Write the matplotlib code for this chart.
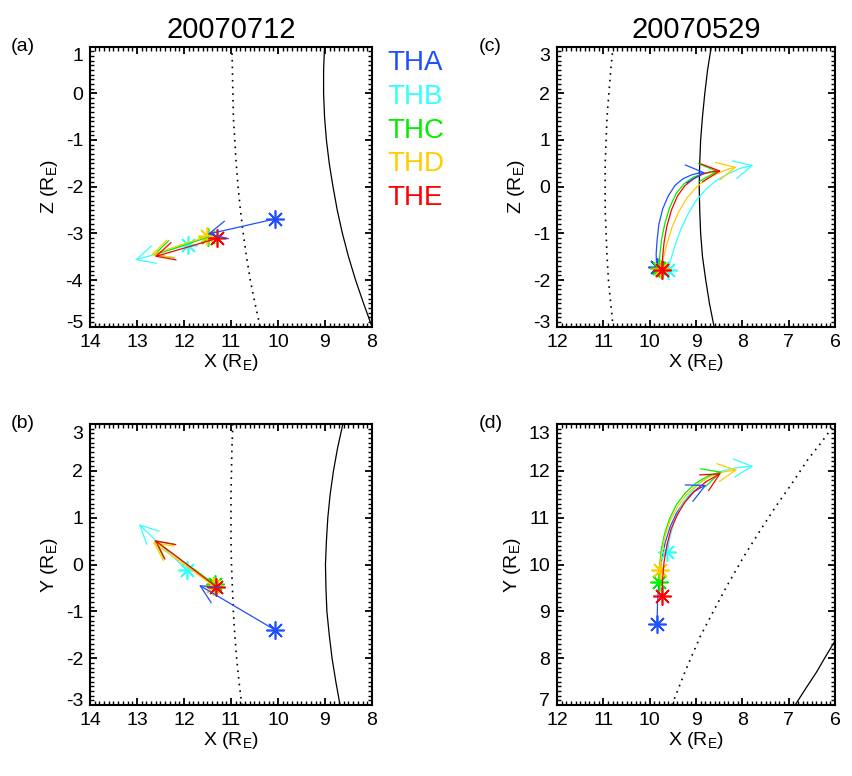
import matplotlib
matplotlib.use("Agg")
import matplotlib.pyplot as plt
import matplotlib.transforms as mtransforms
from matplotlib.ticker import MultipleLocator

plt.rcParams['font.family'] = ['Liberation Sans', 'DejaVu Sans']
plt.rcParams['mathtext.fontset'] = 'custom'
plt.rcParams['mathtext.rm'] = 'Liberation Sans'
plt.rcParams['mathtext.it'] = 'Liberation Sans'

# spacecraft
probes = ["THA", "THB", "THC", "THD", "THE"]
colors = ["#1f4fff", "#33ffff", "#00f000", "#ffcc00", "#ff0000"]

# event 20070712 : start (star) and end (arrow tip) of each vector
xz_a_start = [(10.06, -2.69), (11.92, -3.25), (11.48, -3.08), (11.50, -3.06), (11.30, -3.11)]
xz_a_end = [(11.50, -3.02), (13.04, -3.57), (12.66, -3.47), (12.70, -3.46), (12.62, -3.50)]
xy_b_start = [(10.06, -1.40), (11.94, -0.12), (11.35, -0.42), (11.38, -0.45), (11.32, -0.47)]
xy_b_end = [(11.68, -0.44), (12.96, 0.86), (12.64, 0.52), (12.66, 0.48), (12.62, 0.52)]

# boundaries 20070712
bs_a_z = [1.0, 0.5, 0.0, -0.5, -1.0, -1.5, -2.0, -2.5, -3.0, -3.5, -4.0, -4.5, -5.0]
bs_a_x = [10.98, 10.97, 10.96, 10.95, 10.92, 10.89, 10.85, 10.80, 10.74, 10.67, 10.59, 10.49, 10.38]
mp_a_z = [1.0, 0.5, 0.0, -0.5, -1.0, -1.5, -2.0, -2.5, -3.0, -3.5, -4.0, -4.5, -5.0]
mp_a_x = [9.01, 9.03, 9.03, 9.01, 8.97, 8.91, 8.83, 8.74, 8.63, 8.50, 8.35, 8.18, 8.00]
bs_b_y = [3.0, 2.5, 2.0, 1.5, 1.0, 0.5, 0.0, -0.5, -1.0, -1.5, -2.0, -2.5, -3.0]
bs_b_x = [10.96, 10.98, 10.99, 11.00, 11.00, 11.00, 10.99, 10.97, 10.95, 10.92, 10.88, 10.83, 10.77]
mp_b_y = [3.0, 2.5, 2.0, 1.5, 1.0, 0.5, 0.0, -0.5, -1.0, -1.5, -2.0, -2.5, -3.0]
mp_b_x = [8.62, 8.73, 8.82, 8.89, 8.94, 8.97, 8.99, 8.98, 8.96, 8.91, 8.85, 8.77, 8.68]

# event 20070529 : curved paths, first point = star, last point = arrow tip
xz_c_paths = [
    [(9.85, -1.72), (9.86, -1.45), (9.84, -1.15), (9.80, -0.80), (9.72, -0.48), (9.60, -0.20),
     (9.45, 0.03), (9.28, 0.17), (9.10, 0.25), (8.95, 0.29), (8.80, 0.30)],
    [(9.60, -1.78), (9.54, -1.55), (9.45, -1.25), (9.33, -0.92), (9.18, -0.60), (9.00, -0.30),
     (8.78, -0.05), (8.55, 0.14), (8.30, 0.28), (8.05, 0.39), (7.76, 0.46)],
    [(9.80, -1.75), (9.78, -1.45), (9.74, -1.12), (9.67, -0.78), (9.57, -0.45), (9.43, -0.15),
     (9.26, 0.06), (9.06, 0.20), (8.85, 0.28), (8.68, 0.32), (8.52, 0.33)],
    [(9.76, -1.76), (9.70, -1.50), (9.62, -1.20), (9.52, -0.88), (9.38, -0.55), (9.20, -0.25),
     (8.98, 0.00), (8.75, 0.18), (8.50, 0.30), (8.30, 0.38), (8.12, 0.42)],
    [(9.74, -1.78), (9.72, -1.50), (9.69, -1.20), (9.63, -0.85), (9.53, -0.50), (9.40, -0.20),
     (9.24, 0.02), (9.05, 0.17), (8.85, 0.27), (8.65, 0.32), (8.46, 0.34)],
]
xy_d_paths = [
    [(9.84, 8.74), (9.83, 9.20), (9.80, 9.65), (9.75, 10.05), (9.67, 10.45), (9.56, 10.80),
     (9.42, 11.10), (9.25, 11.35), (9.05, 11.55), (8.90, 11.64), (8.77, 11.70)],
    [(9.62, 10.26), (9.56, 10.60), (9.47, 10.92), (9.33, 11.22), (9.15, 11.50), (8.93, 11.73),
     (8.68, 11.90), (8.40, 12.01), (8.10, 12.07), (7.76, 12.10)],
    [(9.80, 9.62), (9.79, 9.95), (9.75, 10.30), (9.68, 10.65), (9.57, 10.98), (9.42, 11.28),
     (9.23, 11.53), (9.00, 11.74), (8.74, 11.89), (8.44, 11.98)],
    [(9.78, 9.88), (9.74, 10.25), (9.67, 10.60), (9.56, 10.93), (9.40, 11.23), (9.20, 11.50),
     (8.96, 11.72), (8.70, 11.88), (8.40, 11.98), (8.11, 12.02)],
    [(9.73, 9.32), (9.72, 9.70), (9.69, 10.05), (9.63, 10.40), (9.54, 10.75), (9.41, 11.05),
     (9.24, 11.33), (9.03, 11.57), (8.78, 11.77), (8.46, 11.95)],
]

# boundaries 20070529
bs_c_z = [3.0, 2.5, 2.0, 1.5, 1.0, 0.5, 0.0, -0.5, -1.0, -1.5, -2.0, -2.5, -3.0]
bs_c_x = [10.79, 10.84, 10.88, 10.92, 10.94, 10.96, 10.96, 10.96, 10.94, 10.92, 10.89, 10.84, 10.79]
mp_c_z = [3.0, 2.5, 2.0, 1.5, 1.0, 0.5, 0.0, -0.5, -1.0, -1.5, -2.0, -2.5, -3.0]
mp_c_x = [8.67, 8.75, 8.81, 8.86, 8.90, 8.92, 8.93, 8.92, 8.90, 8.86, 8.79, 8.71, 8.61]
bs_d_x = [9.52, 9.22, 8.91, 8.60, 8.30, 7.95, 7.60, 7.27, 6.95, 6.58, 6.30, 6.04]
bs_d_y = [7.00, 7.75, 8.46, 9.05, 9.60, 10.20, 10.75, 11.25, 11.70, 12.25, 12.60, 12.95]
mp_d_x = [6.86, 6.62, 6.40, 6.20, 6.00]
mp_d_y = [7.00, 7.37, 7.70, 8.04, 8.37]

W, H = 852, 776
fig = plt.figure(figsize=(W / 100, H / 100), dpi=100)


def make_axes(left, top, right, bottom):
    return fig.add_axes([left / W, 1 - bottom / H, (right - left) / W, (bottom - top) / H])


def style(ax, xlim, ylim, xlabel, ylabel, panel):
    ax.set_xlim(*xlim)
    ax.set_ylim(*ylim)
    ax.xaxis.set_major_locator(MultipleLocator(1))
    ax.xaxis.set_minor_locator(MultipleLocator(0.1))
    ax.yaxis.set_minor_locator(MultipleLocator(0.1))
    ax.tick_params(which="both", direction="in", top=True, right=True, labelsize=14, width=1.0)
    ax.tick_params(which="major", length=5, pad=5, width=1.3)
    ax.tick_params(which="minor", length=3)
    for s in ax.spines.values():
        s.set_linewidth(1.5)
    ax.set_xlabel(xlabel, fontsize=14, labelpad=1)
    ax.set_ylabel(ylabel, fontsize=14, labelpad=4)
    ax.text(-0.28, 1.0, panel, transform=ax.transAxes, fontsize=14, va="center", ha="left")
    # end labels of the y axis are pulled inward
    ticks = list(range(int(ylim[0]), int(ylim[1]) + 1))
    ax.set_yticks(ticks)
    ax.set_yticklabels([str(t) for t in ticks])
    labels = ax.yaxis.get_majorticklabels()
    down = mtransforms.ScaledTranslation(0, -6 / 72, fig.dpi_scale_trans)
    up = mtransforms.ScaledTranslation(0, 4 / 72, fig.dpi_scale_trans)
    labels[0].set_transform(labels[0].get_transform() + up)
    labels[-1].set_transform(labels[-1].get_transform() + down)


def vector(ax, pts, c):
    xs = [p[0] for p in pts]
    ys = [p[1] for p in pts]
    ax.plot(xs[:-1], ys[:-1], color=c, lw=0.9)
    ax.annotate("", xy=(xs[-1], ys[-1]), xytext=(xs[-2], ys[-2]),
                arrowprops=dict(arrowstyle="->,head_length=1.3,head_width=0.65",
                                color=c, lw=0.9, shrinkA=0, shrinkB=0, mutation_scale=10))
    ax.plot(xs[0], ys[0], marker=(8, 2, 0), ms=13, mew=1.2, color=c, ls="none")


xl = "X (R$_\\mathrm{E}$)"
dots = (0, (1, 3))

# (a)
ax = make_axes(90, 46.6, 372, 326.7)
ax.plot(bs_a_x, bs_a_z, color="k", ls=dots, lw=1.2)
ax.plot(mp_a_x, mp_a_z, color="k", lw=0.9)
for s, e, c in zip(xz_a_start, xz_a_end, colors):
    vector(ax, [s, e], c)
style(ax, (14, 8), (-5, 1), xl, "Z (R$_\\mathrm{E}$)", "(a)")
ax.set_title("20070712", fontsize=21, pad=6)
for i, (name, c) in enumerate(zip(probes, colors)):
    ax.text(1.055, 0.94 - i * 0.12, name, color=c, fontsize=20, transform=ax.transAxes,
            ha="left", va="center")

# (b)
ax = make_axes(90, 424, 372, 705)
ax.plot(bs_b_x, bs_b_y, color="k", ls=dots, lw=1.2)
ax.plot(mp_b_x, mp_b_y, color="k", lw=0.9)
for s, e, c in zip(xy_b_start, xy_b_end, colors):
    vector(ax, [s, e], c)
style(ax, (14, 8), (-3, 3), xl, "Y (R$_\\mathrm{E}$)", "(b)")

# (c)
ax = make_axes(557, 46.6, 835, 326.7)
ax.plot(bs_c_x, bs_c_z, color="k", ls=dots, lw=1.2)
ax.plot(mp_c_x, mp_c_z, color="k", lw=0.9)
for p, c in zip(xz_c_paths, colors):
    vector(ax, p, c)
style(ax, (12, 6), (-3, 3), xl, "Z (R$_\\mathrm{E}$)", "(c)")
ax.set_title("20070529", fontsize=21, pad=6)

# (d)
ax = make_axes(557, 424, 835, 705)
ax.plot(bs_d_x, bs_d_y, color="k", ls=dots, lw=1.2)
ax.plot(mp_d_x, mp_d_y, color="k", lw=0.9)
for p, c in zip(xy_d_paths, colors):
    vector(ax, p, c)
style(ax, (12, 6), (7, 13), xl, "Y (R$_\\mathrm{E}$)", "(d)")

fig.savefig("out.png", dpi=100)
